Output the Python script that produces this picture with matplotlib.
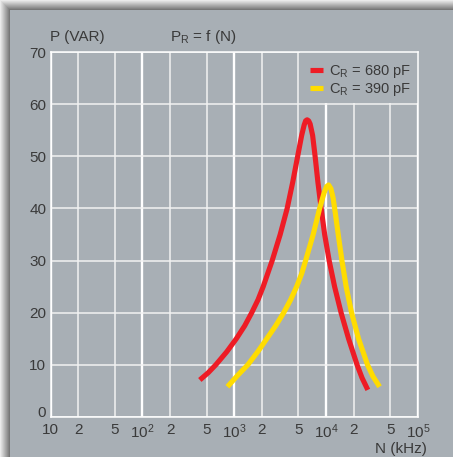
import numpy as np
import matplotlib
matplotlib.use("Agg")
import matplotlib.pyplot as plt
from matplotlib.patches import Rectangle

# ── Data ──
n_680 = [422, 521, 629, 828, 1052, 1300, 1549, 1816, 2065, 2588, 3162, 3767, 4325,
         4900, 5416, 5768, 5984, 6209, 6457, 6699, 7129, 7586, 8143, 8831, 9642,
         10788, 12367, 14546, 17564, 21727, 24600, 28440]
p_680 = [7.1, 8.5, 10, 12.5, 15, 17.5, 20, 22.5, 25, 30, 35, 40, 45,
         50, 54, 56, 56.8, 57, 56.8, 56.2, 54, 50, 45, 40, 35,
         30, 25, 20, 15, 10, 7.5, 5.2]

n_390 = [843, 1091, 1403, 1799, 2256, 2825, 3451, 4111, 4776, 5420, 5984, 7228,
         8497, 9506, 10116, 10641, 11272, 11912, 12618, 13543, 14859, 16520, 18923,
         22542, 28242, 32300, 38194]
p_390 = [5.8, 8, 10, 12.5, 15, 17.5, 20, 22.5, 25, 27.5, 30, 35,
         40, 43, 44.2, 44.5, 43.8, 42, 39, 35, 30, 25, 20,
         15, 10, 7.8, 5.8]

labels = [r"C$_\mathregular{R}$ = 680 pF", r"C$_\mathregular{R}$ = 390 pF"]

decade_ticks = [10, 100, 1000, 10000, 100000]
decade_labels = ["10", r"$10^2$", r"$10^3$", r"$10^4$", r"$10^5$"]
minor_ticks = [20, 50, 200, 500, 2000, 5000, 20000, 50000]
minor_labels = ["2", "5"] * 4
y_ticks = [0, 10, 20, 30, 40, 50, 60, 70]

# ── Style ──
PANEL = "#a8afb5"
RED = "#ee1c25"
YELLOW = "#ffdc00"
TXT = "#3a3a3a"
W, H = 453, 457

plt.rcParams["font.family"] = ["Liberation Sans", "DejaVu Sans"]
plt.rcParams["mathtext.fontset"] = "custom"
plt.rcParams["mathtext.rm"] = "Liberation Sans"
plt.rcParams["mathtext.it"] = "Liberation Sans"
plt.rcParams["mathtext.default"] = "regular"
FS = 11

fig = plt.figure(figsize=(W / 100, H / 100), dpi=100)

# background panel with a soft shadow strip on top and left
bg = np.ones((H, W, 3)) * np.array([int(PANEL[i:i + 2], 16) / 255 for i in (1, 3, 5)])
yy, xx = np.mgrid[0:H, 0:W]
d = np.maximum(10 - yy, 10 - xx).astype(float)
mask = d > 0
shade = 0.42 + 0.5 * np.clip(d / 10.0, 0, 1)
bg[mask] = shade[mask][:, None]
bax = fig.add_axes([0, 0, 1, 1], zorder=-5)
bax.imshow(bg, aspect="auto", extent=(0, W, H, 0))
bax.axis("off")

ax = fig.add_axes([50.5 / W, 40 / H, 367.5 / W, 365 / H])
ax.set_facecolor("none")
ax.set_xscale("log")
ax.set_xlim(10, 1e5)
ax.set_ylim(0, 70)

ax.set_xticks(decade_ticks)
ax.set_xticklabels(decade_labels)
ax.set_xticks(minor_ticks, minor=True)
ax.set_xticklabels(minor_labels, minor=True)
ax.set_yticks(y_ticks)
ax.tick_params(which="both", length=0, colors=TXT, labelsize=FS)
ax.tick_params(axis="x", which="both", pad=4)
ax.tick_params(axis="y", pad=3)

ax.grid(True, which="major", axis="x", color="white", lw=1.7)
ax.grid(True, which="minor", axis="x", color="#f2f2f2", lw=1.1)
ax.grid(True, which="major", axis="y", color="#f2f2f2", lw=1.1)
for s in ax.spines.values():
    s.set_color("white")
    s.set_linewidth(1.1)

ax.get_yticklabels()[0].set_va("baseline")

# legend backdrop hides the grid in the top right corner
ax.add_patch(Rectangle((0.68, 0.86), 0.32, 0.14, transform=ax.transAxes,
                       facecolor=PANEL, edgecolor="none", zorder=1.8))

l1, = ax.plot(n_680, p_680, color=RED, lw=3.7, solid_capstyle="butt",
              solid_joinstyle="round", zorder=3)
l2, = ax.plot(n_390, p_390, color=YELLOW, lw=3.7, solid_capstyle="butt",
              solid_joinstyle="round", zorder=3)

ax.legend([l1, l2], labels, loc="upper left", bbox_to_anchor=(0.705, 0.97),
          frameon=False, fontsize=10.5, handlelength=0.95, handletextpad=0.35,
          labelspacing=0.1, borderpad=0, borderaxespad=0, labelcolor=TXT)

fig.text(50 / W, 1 - 40.7 / H, "P (VAR)", fontsize=FS, color=TXT, va="baseline")
fig.text(170 / W, 1 - 40.7 / H, r"P$_\mathregular{R}$ = f (N)", fontsize=FS,
         color=TXT, va="baseline")
fig.text(427 / W, 1 - 453 / H, "N (kHz)", fontsize=FS, color=TXT,
         ha="right", va="baseline")

fig.savefig("out.png", dpi=100)
